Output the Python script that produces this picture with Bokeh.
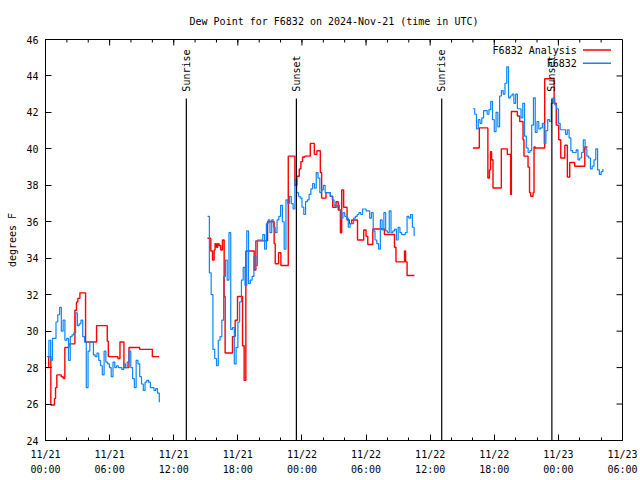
import numpy as np
from bokeh.plotting import figure
from bokeh.models import Range1d, FixedTicker
from bokeh.embed import file_html
from bokeh.resources import INLINE
from bokeh.core.properties import value

FONT = "DejaVu Sans Mono"

# ---- axes / ticks ----
x_lo, x_hi = 0, 54
y_lo, y_hi = 24, 46
x_ticks = [0, 6, 12, 18, 24, 30, 36, 42, 48, 54]
x_tick_dates = ["11/21", "11/21", "11/21", "11/21", "11/22", "11/22", "11/22", "11/22", "11/23", "11/23"]
x_tick_times = ["00:00", "06:00", "12:00", "18:00", "00:00", "06:00", "12:00", "18:00", "00:00", "06:00"]
x_minor = list(range(0, 55, 2))
y_ticks = list(range(24, 47, 2))

# ---- sun events (hours since 11/21 00:00 UTC) ----
sun_t = [13.18, 23.48, 37.08, 47.39]
sun_labels = ["Sunrise", "Sunset", "Sunrise", "Sunset"]

# ---- F6832 observations (10-minute samples) ----
blue1_start = 0.15
blue1 = [28.6, 29.5, 28.4, 29.6, 29.6, 30.5, 30.9, 31.3, 30.0, 30.6,
         29.5, 29.6, 28.4, 29.7, 29.8, 29.9, 31.0, 30.3, 30.4, 30.6,
         29.7, 29.4, 26.9, 28.9, 29.4, 29.4, 28.7, 28.6, 28.8, 28.4,
         28.1, 27.6, 28.9, 28.3, 28.2, 28.0, 27.5, 28.3, 28.0, 28.1,
         28.0, 28.0, 27.9, 28.2, 28.0, 28.3, 28.9, 28.0, 27.4, 26.9,
         28.4, 28.2, 27.5, 27.1, 26.75, 27.2, 27.3, 27.2, 26.9, 26.9,
         26.75, 26.85, 26.6, 26.1]
blue2_start = 15.17
blue2 = [36.3, 33.2, 32.0, 29.0, 28.5, 28.1, 29.5, 29.7, 30.6, 33.0,
         33.9, 32.8, 35.4, 30.1, 30.2, 28.2, 29.1, 30.5, 31.6, 32.8,
         33.5, 32.5, 35.5, 32.6, 32.8, 33.0, 34.1, 33.6, 35.0, 35.0,
         35.0, 35.3, 34.5, 35.9, 36.1, 35.4, 36.1, 35.7, 35.4, 36.1,
         36.3, 36.9, 36.0, 34.5, 37.2, 37.0, 37.4, 37.0, 36.7, 38.3,
         37.6, 37.4, 37.3, 36.8, 36.4, 37.1, 37.2, 37.5, 37.8, 38.1,
         37.85, 38.7, 38.4, 37.6, 37.75, 38.0, 37.6, 37.6, 37.6, 37.4,
         37.2, 36.9, 36.8, 36.9, 36.65, 36.2, 36.5, 36.3, 36.2, 35.7,
         35.9, 35.9, 36.2, 36.3, 36.4, 36.5, 36.4, 36.7, 36.7, 36.6,
         36.6, 36.2, 36.5, 35.5, 35.0, 34.8, 34.5, 36.1, 35.55, 36.5,
         35.5, 35.4, 36.6, 35.4, 35.5, 35.6, 35.0, 35.7, 35.4, 35.3,
         35.3, 35.4, 36.3, 36.2, 36.4, 35.7, 35.2]
blue3_start = 40.0
blue3 = [42.2, 41.9, 41.1, 41.6, 41.4, 41.7, 42.1, 42.1, 41.9, 42.15,
         42.6, 41.6, 40.95, 42.0, 41.2, 42.9, 43.2, 43.0, 43.6, 44.5,
         42.8, 42.9, 43.0, 42.5, 43.0, 42.2, 42.2, 41.7, 42.5, 40.7,
         40.05, 39.8, 39.9, 41.3, 42.8, 40.9, 41.5, 41.1, 41.15, 41.4,
         40.3, 41.0, 41.6, 41.5, 42.5, 42.8, 42.4, 42.2, 41.4, 41.05,
         41.05, 41.05, 40.8, 41.05, 40.6, 39.9, 39.8, 39.8, 39.95, 39.4,
         39.5, 39.8, 40.5, 40.0, 39.6, 39.5, 38.9, 39.05, 39.4, 40.0,
         38.85, 38.6, 38.75, 38.9]
blue_step_h = 1.0 / 6.0

# ---- F6832 Analysis (step changes) ----
red1_t = [0.16, 0.3, 0.5, 0.84, 0.94, 1.06, 1.47, 1.66, 1.81, 2.19, 2.75, 2.9, 3.03,
          3.22, 3.75, 4.78, 5.78, 5.88, 6.78, 6.97, 7.34, 7.81, 8.81, 10.0, 10.63]
red1_v = [28.0, 28.6, 25.95, 26.3, 26.9, 27.6, 27.5, 27.4, 29.1, 29.3, 31.15, 31.6, 31.8,
          32.1, 29.4, 30.3, 29.45, 28.6, 28.5, 29.4, 28.0, 29.1, 29.0, 28.6, 28.6]
red2_t = [15.16, 15.47, 15.63, 15.78, 15.87, 16.0, 16.12, 16.25, 16.4, 16.56,
          16.72, 16.81, 17.5, 17.75, 17.97, 18.44, 18.59, 18.75, 19.53, 19.69,
          20.78, 21.4, 21.5, 21.81, 22.03, 22.72, 23.34, 23.53, 23.75, 23.9,
          24.06, 24.28, 24.78, 25.16, 25.4, 25.72, 25.84, 26.25, 26.65, 26.88,
          27.19, 27.4, 27.6, 27.72, 27.9, 28.22, 28.44, 28.66, 29.2, 29.78,
          30.0, 30.16, 30.63, 31.72, 32.66, 32.8, 33.6, 33.7, 33.84, 34.53]
red2_v = [35.1, 34.4, 33.9, 34.45, 34.8, 34.6, 34.8, 34.7, 34.45, 35.0,
          31.9, 28.8, 29.7, 30.6, 31.9, 29.2, 27.3, 34.4, 33.35, 34.95,
          36.0, 34.8, 33.7, 34.3, 33.6, 39.6, 38.0, 38.5, 38.9, 39.3,
          39.55, 39.6, 40.3, 39.7, 39.9, 38.7, 37.3, 37.6, 37.4, 36.8,
          37.1, 36.65, 35.4, 37.75, 36.8, 36.1, 35.9, 36.1, 35.0, 35.55,
          35.2, 34.75, 35.6, 35.3, 34.6, 33.8, 34.4, 33.8, 33.05, 33.05]
red3_t = [40.0, 40.6, 41.4, 41.55, 41.65, 41.75, 41.88, 42.66, 43.22, 43.53,
          43.6, 44.16, 44.38, 44.69, 44.78, 45.16, 45.3, 45.4, 45.63, 45.72,
          45.84, 46.72, 47.6, 47.8, 48.03, 48.22, 48.6, 48.84, 49.06, 49.53,
          50.47, 50.72]
red3_v = [40.05, 41.15, 38.4, 38.85, 39.85, 39.4, 37.85, 40.0, 39.7, 37.5,
          42.05, 41.8, 41.5, 40.5, 39.6, 39.0, 37.6, 37.4, 37.6, 40.1,
          40.05, 43.85, 42.5, 41.3, 40.5, 39.5, 40.2, 38.45, 39.25, 39.05,
          40.1, 40.1]

RED = "#ff0000"
BLUE = "#0a85ff"

p = figure(width=640, height=480, output_backend="svg", toolbar_location=None,
           x_range=Range1d(x_lo, x_hi), y_range=Range1d(y_lo, y_hi),
           min_border_left=45, min_border_right=18, min_border_top=39, min_border_bottom=40)

p.title.text = "Dew Point for F6832 on 2024-Nov-21 (time in UTC)"
p.title.align = "center"
p.title.text_font = FONT
p.title.text_font_size = "10px"
p.title.text_font_style = "normal"
p.title.text_color = "black"
p.title.standoff = 25

p.xgrid.visible = False
p.ygrid.visible = False
p.outline_line_color = "black"
p.outline_line_alpha = 1.0
p.background_fill_color = "white"
p.border_fill_color = "white"


def style(ax):
    ax.axis_line_color = "black"
    ax.major_tick_line_color = "black"
    ax.minor_tick_line_color = "black"
    ax.major_tick_in = 6
    ax.major_tick_out = 0
    ax.minor_tick_in = 3
    ax.minor_tick_out = 0
    ax.major_label_text_font = FONT
    ax.major_label_text_font_size = "10px"
    ax.major_label_text_color = "black"


xa = p.xaxis[0]
xa.ticker = FixedTicker(ticks=x_ticks, minor_ticks=x_minor)
style(xa)
xa.major_label_overrides = {t: f"{d}\n{tm}" for t, d, tm in zip(x_ticks, x_tick_dates, x_tick_times)}
xa.major_label_text_line_height = 1.45
xa.major_label_standoff = 8

ya = p.yaxis[0]
ya.ticker = FixedTicker(ticks=y_ticks, minor_ticks=[])
style(ya)
ya.major_label_standoff = 7
ya.axis_label = "degrees F"
ya.axis_label_text_font = FONT
ya.axis_label_text_font_size = "10px"
ya.axis_label_text_font_style = "normal"
ya.axis_label_text_color = "black"
ya.axis_label_standoff = 5

# mirrored ticks on the top and right edges of the frame
p.ray(x=x_ticks, y=[y_hi] * len(x_ticks), length=6, length_units="screen",
      angle=-np.pi / 2, line_color="black", line_width=1)
p.ray(x=x_minor, y=[y_hi] * len(x_minor), length=3, length_units="screen",
      angle=-np.pi / 2, line_color="black", line_width=1)
p.ray(x=[x_hi] * len(y_ticks), y=y_ticks, length=6, length_units="screen",
      angle=np.pi, line_color="black", line_width=1)

# analysis (red) steps
for rt, rv in [(red1_t, red1_v), (red2_t, red2_v), (red3_t, red3_v)]:
    p.step(rt, rv, mode="after", line_color=RED, line_width=1.4)

# observations (blue) steps
for start, vals in [(blue1_start, blue1), (blue2_start, blue2), (blue3_start, blue3)]:
    tt = start + blue_step_h * np.arange(len(vals))
    p.step(tt, vals, mode="after", line_color=BLUE, line_width=1.2)

# sunrise / sunset markers
sun_line_top = 42.76
sun_label_y = 43.14
p.segment(x0=sun_t, y0=[y_lo] * len(sun_t), x1=sun_t, y1=[sun_line_top] * len(sun_t),
          line_color="black", line_width=1.2)
p.text(x=sun_t, y=[sun_label_y] * len(sun_t), text=sun_labels, angle=np.pi / 2,
       text_align="left", text_baseline="middle", text_font=value(FONT),
       text_font_size="10px", text_color="black")

# key (top right)
key_text_x = 49.73
key_line_x0, key_line_x1 = 50.3, 52.92
key_rows_y = [45.42, 44.70]
key_names = ["F6832 Analysis", "F6832"]
key_colors = [RED, BLUE]
p.text(x=[key_text_x] * 2, y=key_rows_y, text=key_names, text_align="right",
       text_baseline="middle", text_font=value(FONT), text_font_size="10px", text_color="black")
p.segment(x0=[key_line_x0] * 2, y0=key_rows_y, x1=[key_line_x1] * 2, y1=key_rows_y,
          line_color=key_colors, line_width=1.4)

open("out.html", "w").write(file_html(p, INLINE))
